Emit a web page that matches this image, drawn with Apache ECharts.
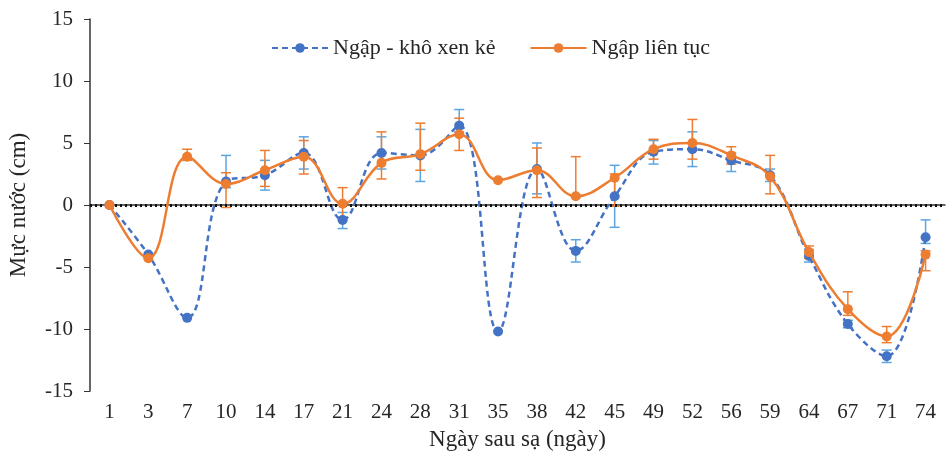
<!DOCTYPE html>
<html>
<head>
<meta charset="utf-8">
<script src="https://cdn.jsdelivr.net/npm/echarts@6/dist/echarts.min.js"></script>
<style>
  html, body { margin: 0; padding: 0; background: #fff; }
  #chart { width: 947px; height: 455px; }
</style>
</head>
<body>
<div id="chart"></div>
<script>
var days = ["1", "3", "7", "10", "14", "17", "21", "24", "28", "31", "35", "38", "42", "45", "49", "52", "56", "59", "64", "67", "71", "74"];

// Ngập - khô xen kẻ
var altVals = [0, -4.0, -9.1, 1.9, 2.4, 4.2, -1.2, 4.2, 4.0, 6.4, -10.2, 2.9, -3.7, 0.7, 4.3, 4.5, 3.6, 2.4, -4.1, -9.6, -12.2, -2.6];
var altUp   = [0, 0, 0, 2.1, 1.2, 1.3, 0.6, 1.3, 2.1, 1.3, 0, 2.1, 0.9, 2.5, 0.9, 1.4, 0.6, 0.5, 0.5, 0.3, 0.5, 1.4];
var altDown = [0, 0, 0, 0.5, 1.2, 1.3, 0.7, 1.3, 2.1, 0.5, 0, 2.0, 0.9, 2.5, 1.0, 1.4, 0.9, 0.5, 0.5, 0.3, 0.5, 0.5];

// Ngập liên tục
var contVals = [0, -4.3, 3.9, 1.7, 2.8, 3.9, 0.1, 3.4, 4.1, 5.7, 2.0, 2.8, 0.7, 2.2, 4.5, 5.0, 4.0, 2.3, -3.8, -8.4, -10.6, -4.0];
var contUp   = [0, 0, 0.6, 0.9, 1.6, 1.3, 1.3, 2.5, 2.5, 1.3, 0, 1.8, 3.2, 0.3, 0.8, 1.9, 0.7, 1.7, 0.5, 1.4, 0.8, 0.3];
var contDown = [0, 0, 0.3, 1.9, 1.3, 1.4, 1.3, 1.3, 1.3, 1.3, 0, 2.2, 0.1, 2.3, 0.8, 1.3, 0.7, 1.4, 0.5, 0.5, 0.5, 1.3];

var blue = "#4472C4";
var blueErr = "#5DA5E0";
var orange = "#ED7D31";
var font = "Liberation Serif";
var txt = "#262626";

function errData(vals, up, down) {
    var out = [];
    for (var i = 0; i < vals.length; i++) {
        out.push([i, vals[i] - down[i], vals[i] + up[i]]);
    }
    return out;
}

function errSeries(name, data, color) {
    return {
        type: "custom",
        name: name + " err",
        data: data,
        z: 3,
        silent: true,
        renderItem: function (params, api) {
            var lo = api.coord([api.value(0), api.value(1)]);
            var hi = api.coord([api.value(0), api.value(2)]);
            if (Math.abs(hi[1] - lo[1]) < 1) {
                return;
            }
            var w = 5;
            var st = { stroke: color, lineWidth: 1.5 };
            return {
                type: "group",
                children: [
                    { type: "line", shape: { x1: lo[0], y1: lo[1], x2: hi[0], y2: hi[1] }, style: st },
                    { type: "line", shape: { x1: lo[0] - w, y1: lo[1], x2: lo[0] + w, y2: lo[1] }, style: st },
                    { type: "line", shape: { x1: hi[0] - w, y1: hi[1], x2: hi[0] + w, y2: hi[1] }, style: st }
                ]
            };
        }
    };
}

var chart = echarts.init(document.getElementById("chart"));
chart.setOption({
    animation: false,
    textStyle: { fontFamily: font },
    legend: {
        top: 32,
        left: 266,
        itemGap: 34,
        itemWidth: 56,
        itemHeight: 12,
        textStyle: { fontFamily: font, fontSize: 22, color: txt },
        data: ["Ngập - khô xen kẻ", "Ngập liên tục"]
    },
    grid: { left: 90, right: 2, top: 19, bottom: 64, containLabel: false, outerBoundsMode: "none" },
    xAxis: {
        type: "category",
        data: days,
        name: "Ngày sau sạ (ngày)",
        nameLocation: "middle",
        nameGap: 37,
        nameTextStyle: { fontFamily: font, fontSize: 23, color: txt },
        axisLine: { lineStyle: { color: "#333", width: 1.5 } },
        axisTick: { alignWithLabel: true, length: 5, lineStyle: { color: "#333" } },
        axisLabel: { fontFamily: font, fontSize: 21, color: txt, margin: 11 },
        splitLine: { show: false }
    },
    yAxis: {
        type: "value",
        min: -15,
        max: 15,
        interval: 5,
        name: "Mực nước (cm)",
        nameLocation: "middle",
        nameGap: 60,
        nameTextStyle: { fontFamily: font, fontSize: 23, color: txt },
        axisLine: { show: true, onZero: false, lineStyle: { color: "#333", width: 1.5 } },
        axisTick: { show: true, length: 6, lineStyle: { color: "#333" } },
        axisLabel: { fontFamily: font, fontSize: 21, color: txt, margin: 17 },
        splitLine: { show: false }
    },
    series: [
        {
            name: "Ngập - khô xen kẻ",
            type: "line",
            data: altVals,
            smooth: 0.4,
            symbol: "circle",
            symbolSize: 10,
            z: 4,
            itemStyle: { color: blue },
            lineStyle: { color: blue, width: 2.5, type: [6, 4] },
            markLine: {
                silent: true,
                symbol: "none",
                label: { show: false },
                lineStyle: { color: "#111", width: 3, type: [2, 3] },
                data: [{ yAxis: 0 }]
            }
        },
        {
            name: "Ngập liên tục",
            type: "line",
            data: contVals,
            smooth: 0.4,
            symbol: "circle",
            symbolSize: 10,
            z: 5,
            itemStyle: { color: orange },
            lineStyle: { color: orange, width: 2.5 }
        },
        errSeries("alt", errData(altVals, altUp, altDown), blueErr),
        errSeries("cont", errData(contVals, contUp, contDown), orange)
    ]
});
</script>
</body>
</html>
